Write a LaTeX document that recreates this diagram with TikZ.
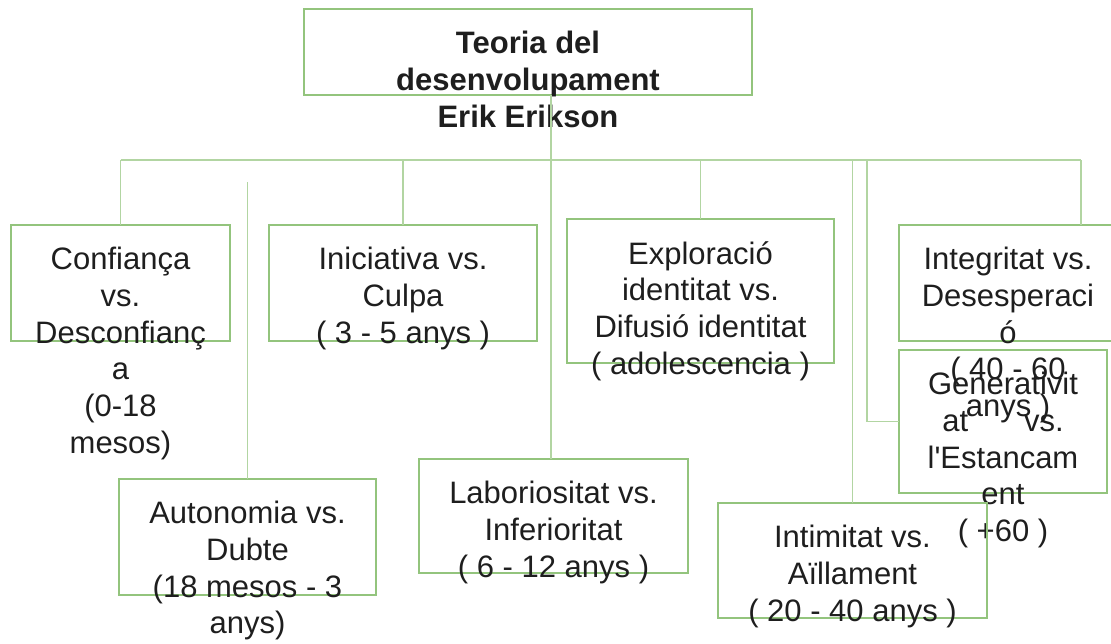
\documentclass[tikz,border=0pt]{standalone}
\usepackage{fontspec}
\newfontfamily\chartfont{Liberation Sans}
\definecolor{boxGreen}{RGB}{147,196,125}
\definecolor{linkGreen}{RGB}{178,213,162}
\definecolor{inkGray}{RGB}{30,30,30}
\newcommand{\stage}[6]{%%
  \node[boxStyle,minimum width=#4pt,minimum height=#5pt] (#1) at (#2,#3) {};
  \node[textStyle] (#1Text) at ([yshift=-\textdy pt]#1.north) {#6};
}

\begin{document}
\begin{tikzpicture}[%%
  x=1pt,y=-1pt,%%
  boxStyle/.style={draw=boxGreen,line width=1.4pt,inner sep=0pt,outer sep=0pt},%%
  textStyle/.style={anchor=north,align=center,inner sep=0pt,text=inkGray,%%
    font=\chartfont\fontsize{31}{36.7}\selectfont,%%
    execute at begin node={\rule{0pt}{24pt}}},%%
  linkStyle/.style={-,draw=linkGreen,line width=1.4pt}
]
\useasboundingbox (0,0) rectangle (1111,643);
\pgfmathsetmacro{\textdy}{22}
%%
%% The boxes of the chart, with their texts.
\stage{title}{528}{52}{448}{86}{\bfseries Teoria del\\\bfseries desenvolupament\\\bfseries Erik Erikson}
\stage{conf}{120.5}{283}{219}{116}{Confiança\\vs.\\Desconfianç\\a\\(0-18\\mesos)}
\stage{inic}{403}{283}{268}{116}{Iniciativa vs.\\Culpa\\( 3 - 5 anys )}
\stage{explo}{700.5}{291}{267}{144}{Exploració\\identitat vs.\\Difusió identitat\\( adolescencia )}
\stage{integ}{1008}{283}{218}{116}{Integritat vs.\\Desesperaci\\ó\\( 40 - 60\\anys )}
\stage{gener}{1003}{421.5}{208}{143}{Generativit\\at\hspace{56pt}vs.\\l'Estancam\\ent\\( +60 )}
\stage{auton}{247.5}{537}{257}{116}{Autonomia vs.\\Dubte\\(18 mesos - 3\\anys)}
\stage{labor}{553.5}{516}{269}{114}{Laboriositat vs.\\Inferioritat\\( 6 - 12 anys )}
\stage{intim}{852.5}{560.5}{269}{115}{Intimitat vs.\\Aïllament\\( 20 - 40 anys )}
%%
%% The connectors.
\coordinate (barL) at (120.5,160);
\coordinate (barR) at (1081,160);
\coordinate (autonTop) at (247.5,182);
\coordinate (generTop) at (867,160);
\coordinate (laborTop) at ([xshift=-2.5pt]labor.north);
\draw[linkStyle] (barL) -- (barR);
\draw[linkStyle] (barL) -- (conf.north);
\draw[linkStyle] (inic.north |- barL) -- (inic.north);
\draw[linkStyle] (explo.north |- barL) -- (explo.north);
\draw[linkStyle] (barR) -- (barR |- integ.north);
\draw[linkStyle] (intim.north |- barL) -- (intim.north);
\draw[linkStyle] (generTop) |- (gener.west);
\draw[linkStyle] (title.south -| laborTop) -- (laborTop);
\draw[linkStyle] (autonTop) -- (auton.north);
\end{tikzpicture}
\end{document}
